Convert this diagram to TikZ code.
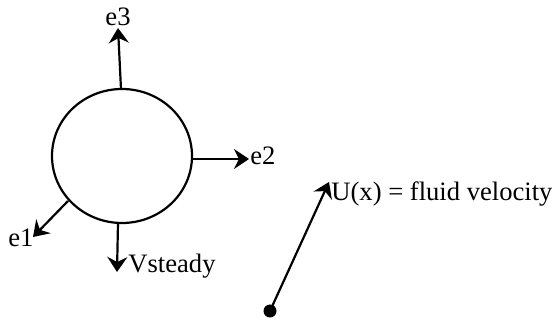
\documentclass[tikz,border=0pt]{standalone}
\usepackage{fontspec}
\setmainfont{Liberation Serif}
\usetikzlibrary{arrows.meta,shapes.geometric}
\begin{document}
\begin{tikzpicture}[x=0.5pt,y=-0.5pt,
  vec/.style={line width=1.1pt,-{Stealth[length=7.5pt,width=10pt,inset=2.5pt]}},
  lbl/.style={inner sep=0pt,font=\fontsize{13.3}{15}\selectfont}]
\useasboundingbox (0,0) rectangle (552,320);
\node[draw,line width=1.1pt,ellipse,minimum width=70pt,minimum height=67pt,inner sep=0pt] (ball) at (122,156) {};
\coordinate (t3) at (118,28);
\coordinate (t2) at (249,159);
\coordinate (t1) at (33,237);
\coordinate (tv) at (117,272);
\coordinate (tu) at (329,182);
\coordinate (s3) at (121,89);
\coordinate (s2) at (192,159);
\coordinate (s1) at (68,201);
\coordinate (sv) at (118,223);
\draw[vec] (s3) -- (t3);
\draw[vec] (s2) -- (t2);
\draw[vec] (s1) -- (t1);
\draw[vec] (sv) -- (tv);
\node[fill,circle,inner sep=0pt,minimum size=6.5pt] (dot) at (270,311) {};
\draw[vec] (dot.center) -- (tu);
\node[lbl,anchor=base] (l3) at (118,26) {e3};
\node[lbl,anchor=base west] (l2) at (250,165) {e2};
\node[lbl,anchor=base west] (l1) at (8,247) {e1};
\node[lbl,anchor=base west] (lv) at (128,273) {Vsteady};
\node[lbl,anchor=base west] (lu) at (331,201) {U(x) = fluid velocity};
\end{tikzpicture}
\end{document}
